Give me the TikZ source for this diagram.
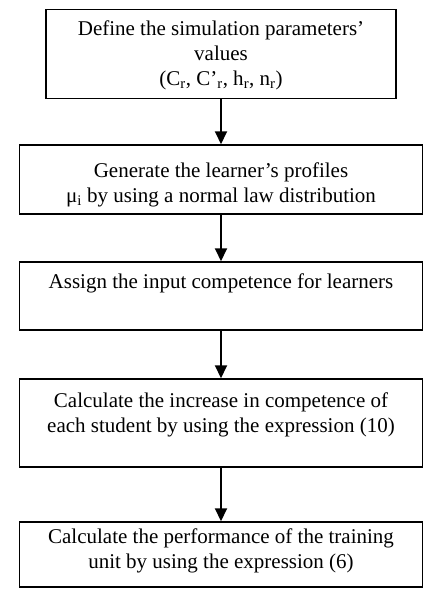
\documentclass[tikz,border=0pt]{standalone}
\usepackage{fontspec}
\setmainfont{Liberation Serif}
\usetikzlibrary{arrows.meta}
\begin{document}
\begin{tikzpicture}[x=1pt,y=-1pt,
  stepbox/.style={draw=black, line width=1.5pt, rectangle, inner sep=0pt},
  txt/.style={align=center, inner sep=0pt, font=\fontsize{21}{25}\selectfont},
  arr/.style={line width=2pt, -{Triangle[length=13pt,width=12pt]}}]
\useasboundingbox (0,0) rectangle (423,589);
% boxes
\node[stepbox, minimum width=350pt, minimum height=89pt] (b1) at (221,54) {};
\node[stepbox, minimum width=403pt, minimum height=69pt] (b2) at (221,179.5) {};
\node[stepbox, minimum width=403pt, minimum height=68pt] (b3) at (221,296) {};
\node[stepbox, minimum width=403pt, minimum height=88pt] (b4) at (221,423) {};
\node[stepbox, minimum width=403pt, minimum height=65pt] (b5) at (221,554.5) {};
% texts
\node[txt] (t1) at (221,55) {Define the simulation parameters’\\values\\(C\textsubscript{r}, C’\textsubscript{r}, h\textsubscript{r}, n\textsubscript{r})};
\node[txt] (t2) at (221,185) {Generate the learner’s profiles\\μ\textsubscript{i} by using a normal law distribution};
\node[txt] (t3) at (221,283) {Assign the input competence for learners};
\node[txt] (t4) at (221,414.5) {Calculate the increase in competence of\\each student by using the expression (10)};
\node[txt] (t5) at (221,550.5) {Calculate the performance of the training\\unit by using the expression (6)};
% connectors
\draw[arr] (b1.south) -- (b2.north);
\draw[arr] (b2.south) -- (b3.north);
\draw[arr] (b3.south) -- (b4.north);
\draw[arr] (b4.south) -- (b5.north);
\end{tikzpicture}
\end{document}
